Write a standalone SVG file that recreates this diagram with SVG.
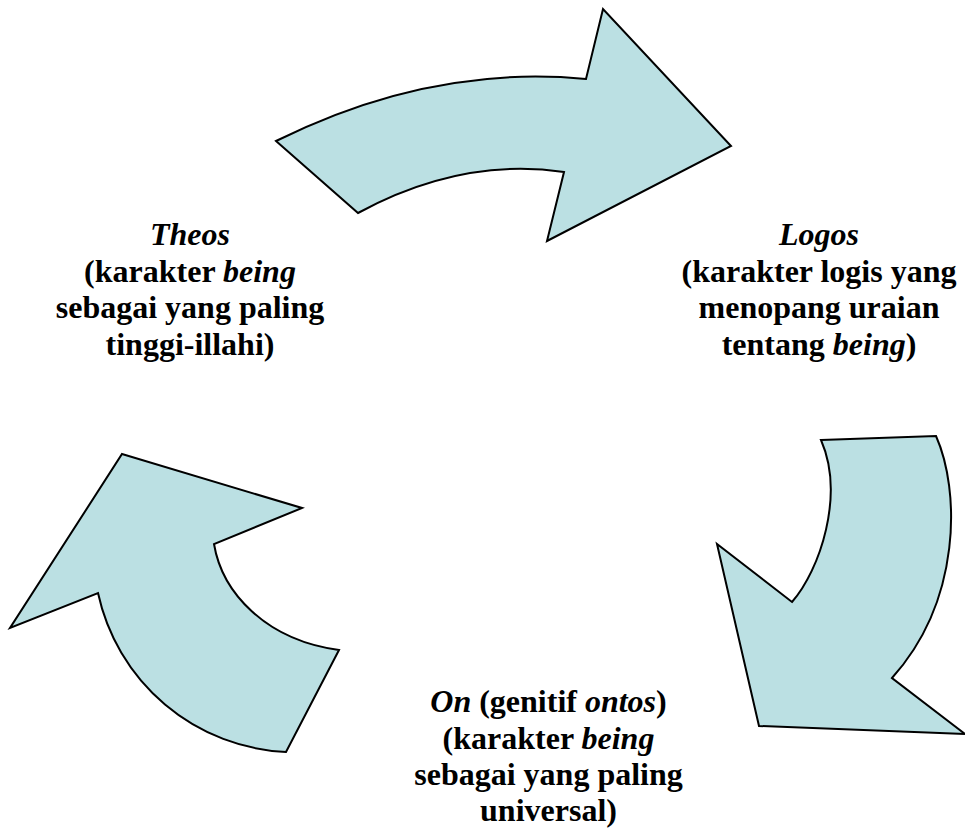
<svg xmlns="http://www.w3.org/2000/svg" width="965" height="828" viewBox="0 0 965 828">
<style>
.arr{fill:#BBE0E3;stroke:#000;stroke-width:2;stroke-linejoin:miter}
.t{font-weight:bold;font-size:32px;fill:#000;text-anchor:middle}
.i{font-style:italic}
</style>
<rect width="965" height="828" fill="#fff"/>
<g id="connectors">
<path class="arr" d="M276,141 Q431,64 586,79 L603,9 L731,146 L547,241 L564,172 Q461,157 358,213 Z"/>
<path class="arr" d="M821,440 L936,436 C960,490 962,600 892,678 L965,734 L759,726 L717,544 L792,602 C820,570 845,495 821,440 Z"/>
<path class="arr" d="M122,454 L302,508 L214,544 C222,592 265,640 339,650 L286,752 A202,202 0 0 1 98,593 L10,628 Z"/>
</g>
<g id="theos" font-family="'Liberation Serif', 'Times New Roman', serif">
<text class="t" x="190" y="245"><tspan class="i">Theos</tspan></text>
<text class="t" x="190" y="281.7">(karakter <tspan class="i">being</tspan></text>
<text class="t" x="190" y="318.3">sebagai yang paling</text>
<text class="t" x="190" y="355">tinggi-illahi)</text>
</g>
<g id="logos" font-family="'Liberation Serif', 'Times New Roman', serif">
<text class="t" x="819" y="245"><tspan class="i">Logos</tspan></text>
<text class="t" x="819" y="281.7">(karakter logis yang</text>
<text class="t" x="819" y="318.3">menopang uraian</text>
<text class="t" x="819" y="355">tentang <tspan class="i">being</tspan>)</text>
</g>
<g id="on" font-family="'Liberation Serif', 'Times New Roman', serif">
<text class="t" x="548.5" y="712"><tspan class="i">On</tspan> (genitif <tspan class="i">ontos</tspan>)</text>
<text class="t" x="548.5" y="748.5">(karakter <tspan class="i">being</tspan></text>
<text class="t" x="548.5" y="785">sebagai yang paling</text>
<text class="t" x="548.5" y="821">universal)</text>
</g>
</svg>
